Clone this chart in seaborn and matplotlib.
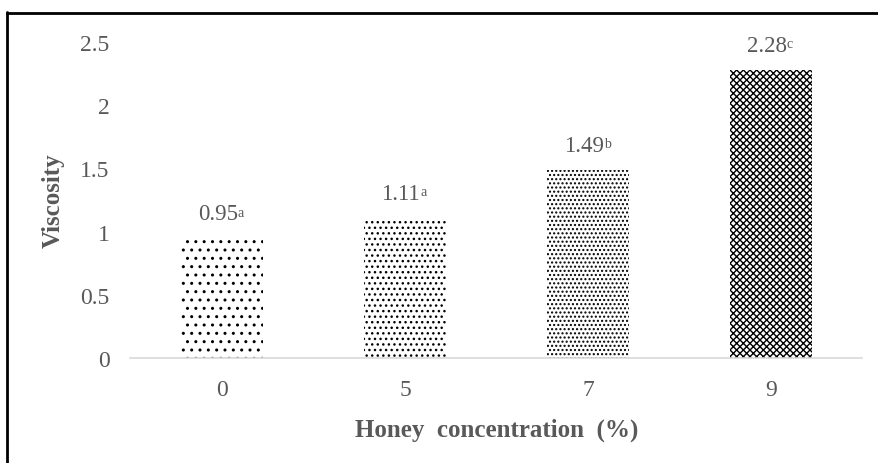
import matplotlib
matplotlib.use("Agg")
import matplotlib.pyplot as plt
import seaborn as sns
from matplotlib.lines import Line2D

concentration = ["0", "5", "7", "9"]
viscosity = [0.95, 1.11, 1.49, 2.28]
letters = ["a", "a", "b", "c"]
hatches = ["..", "...", "....", "xxxxx"]
yticks = [0, 0.5, 1, 1.5, 2, 2.5]
ytick_labels = ["0", "0.5", "1", "1.5", "2", "2.5"]

sns.set_style("white")
plt.rcParams["font.family"] = ["Liberation Serif", "DejaVu Serif"]
plt.rcParams["hatch.linewidth"] = 1.0

grey = "#595959"

fig = plt.figure(figsize=(8.79, 4.64), dpi=100)
ax = fig.add_axes([130.5 / 879, 1 - 359 / 464, 732 / 879, 316 / 464])

sns.barplot(x=concentration, y=viscosity, color="white", width=0.45, ax=ax)

for patch, h in zip(ax.patches, hatches):
    patch.set_hatch(h)
    patch.set_edgecolor("black")
    patch.set_linewidth(0)

# value labels, with the letter as a small superscript
for i, (v, l) in enumerate(zip(viscosity, letters)):
    num = ax.annotate(f"{v:.2f}", (i, v), xytext=(-3, 10),
                      textcoords="offset points", ha="center", va="bottom",
                      fontsize=16.5, color=grey)
    ax.annotate(l, xy=(1.0, 0.88), xycoords=num, xytext=(0, 0),
                textcoords="offset points", ha="left", va="top",
                fontsize=10, color=grey)

ax.set_ylim(0, 2.5)
ax.set_yticks(yticks)
ax.set_yticklabels(ytick_labels)
ax.tick_params(axis="both", length=0, labelsize=17, labelcolor=grey)
ax.tick_params(axis="y", pad=15)
ax.tick_params(axis="x", pad=15)

for s in ["top", "right", "left"]:
    ax.spines[s].set_visible(False)
ax.spines["bottom"].set_color("#d9d9d9")
ax.spines["bottom"].set_linewidth(1.2)

ax.set_xlabel("Honey  concentration  (%)", fontsize=18, fontweight="bold", color=grey)
ax.set_ylabel("Viscosity", fontsize=18, fontweight="bold", color=grey)
ax.xaxis.set_label_coords(0.5, -0.19)
ax.yaxis.set_label_coords(-0.0895, 0.5)

fig.add_artist(Line2D([7.5 / 879, 1], [1 - 13.5 / 464] * 2, transform=fig.transFigure,
                      color="black", lw=2))
fig.add_artist(Line2D([7.5 / 879] * 2, [0, 1 - 13 / 464], transform=fig.transFigure,
                      color="black", lw=2))

fig.savefig("out.png", dpi=100)
